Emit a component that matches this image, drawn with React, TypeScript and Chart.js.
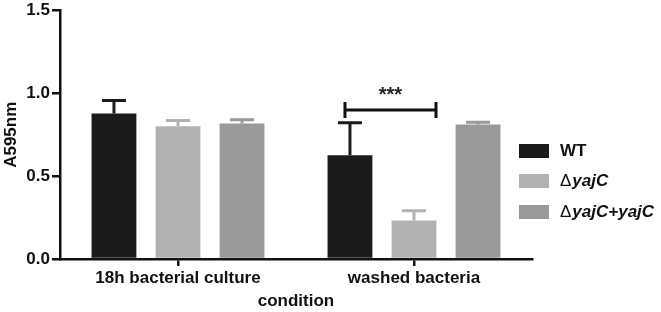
import React, { useEffect, useRef } from "react";
import { Chart, registerables } from "chart.js";

Chart.register(...registerables);

const categories = ["18h bacterial culture", "washed bacteria"];
const seriesNames = ["WT", "ΔyajC", "ΔyajC+yajC"];
const wtValues = [0.878, 0.627];
const wtErrors = [0.078, 0.195];
const delValues = [0.802, 0.232];
const delErrors = [0.034, 0.06];
const compValues = [0.818, 0.812];
const compErrors = [0.022, 0.014];
const seriesColors = ["#1b1b1b", "#b2b2b2", "#999999"];
const yTicks = [0, 0.5, 1.0, 1.5];

const FONT = "'Liberation Sans', Arial, sans-serif";

const errorBarPlugin = {
  id: "errorBars",
  afterDatasetsDraw(chart: any) {
    const ctx = chart.ctx;
    const yScale = chart.scales.y;
    chart.data.datasets.forEach((ds: any, di: number) => {
      const meta = chart.getDatasetMeta(di);
      meta.data.forEach((bar: any, i: number) => {
        const v = ds.data[i];
        const e = ds.errors[i];
        const yTop = yScale.getPixelForValue(v);
        const yErr = yScale.getPixelForValue(v + e);
        ctx.save();
        ctx.strokeStyle = ds.backgroundColor;
        ctx.lineWidth = 3;
        ctx.beginPath();
        ctx.moveTo(bar.x, yTop);
        ctx.lineTo(bar.x, yErr);
        ctx.moveTo(bar.x - 12, yErr);
        ctx.lineTo(bar.x + 12, yErr);
        ctx.stroke();
        ctx.restore();
      });
    });
  },
};

const annotationPlugin = {
  id: "annotations",
  afterDraw(chart: any) {
    const ctx = chart.ctx;
    const yScale = chart.scales.y;
    const m0 = chart.getDatasetMeta(0).data[1];
    const m1 = chart.getDatasetMeta(1).data[1];
    // significance bracket between WT and ΔyajC in group 2
    const yb = yScale.getPixelForValue(0.9);
    const x0 = m0.x - 5;
    const x1 = m1.x + 22;
    ctx.save();
    ctx.strokeStyle = "#111";
    ctx.lineWidth = 3;
    ctx.beginPath();
    ctx.moveTo(x0, yb);
    ctx.lineTo(x1, yb);
    ctx.moveTo(x0, yb - 8);
    ctx.lineTo(x0, yb + 8);
    ctx.moveTo(x1, yb - 8);
    ctx.lineTo(x1, yb + 8);
    ctx.stroke();
    ctx.fillStyle = "#222";
    ctx.font = `bold 20px ${FONT}`;
    ctx.textAlign = "center";
    ctx.textBaseline = "middle";
    ctx.fillText("***", (x0 + x1) / 2, yb - 14);
    ctx.restore();

    // legend
    const lx = chart.chartArea.right - 13;
    const rows = [151, 181, 212];
    ctx.save();
    seriesNames.forEach((name, i) => {
      const cy = rows[i];
      ctx.fillStyle = seriesColors[i];
      ctx.fillRect(lx, cy - 7, 30, 14);
      ctx.fillStyle = "#111";
      ctx.textBaseline = "middle";
      ctx.textAlign = "left";
      let tx = lx + 41;
      if (name.startsWith("Δ")) {
        ctx.font = `17px ${FONT}`;
        ctx.fillText("Δ", tx, cy);
        tx += ctx.measureText("Δ").width + 1;
        ctx.font = `italic bold 17px ${FONT}`;
        ctx.fillText(name.slice(1), tx, cy);
      } else {
        ctx.font = `bold 17px ${FONT}`;
        ctx.fillText(name, tx, cy);
      }
    });
    ctx.restore();
  },
};

export default function App() {
  const ref = useRef<HTMLCanvasElement>(null);
  useEffect(() => {
    document.body.style.margin = "0";
    const datasets = [
      { label: seriesNames[0], data: wtValues, errors: wtErrors, backgroundColor: seriesColors[0] },
      { label: seriesNames[1], data: delValues, errors: delErrors, backgroundColor: seriesColors[1] },
      { label: seriesNames[2], data: compValues, errors: compErrors, backgroundColor: seriesColors[2] },
    ];
    const chart = new Chart(ref.current!, {
      type: "bar",
      data: { labels: categories, datasets: datasets as any },
      plugins: [errorBarPlugin, annotationPlugin],
      options: {
        animation: false,
        responsive: false,
        devicePixelRatio: 1,
        layout: { padding: { top: 8, right: 129, left: 0, bottom: 0 } },
        datasets: { bar: { categoryPercentage: 0.814, barPercentage: 0.7 } },
        plugins: { legend: { display: false }, tooltip: { enabled: false } },
        scales: {
          x: {
            grid: { display: true, drawOnChartArea: false, offset: false, tickLength: 7, color: "#111", lineWidth: 2.5 },
            border: { display: true, color: "#111", width: 2.5 },
            ticks: { color: "#111", font: { family: FONT, size: 17, weight: "bold" }, padding: 2 },
            title: { display: true, text: "condition", color: "#111", font: { family: FONT, size: 17, weight: "bold" }, padding: { top: 0, bottom: 0 } },
            afterFit: (s: any) => { s.height = 53; },
          },
          y: {
            min: 0,
            max: 1.5,
            afterBuildTicks: (s: any) => { s.ticks = yTicks.map((v) => ({ value: v })); },
            grid: { display: true, drawOnChartArea: false, tickLength: 8, color: "#111", lineWidth: 2.5 },
            border: { display: true, color: "#111", width: 2.5 },
            ticks: { color: "#111", font: { family: FONT, size: 17, weight: "bold", lineHeight: 1.0 }, padding: 2, callback: (v: any) => Number(v).toFixed(1) },
            title: { display: true, text: "A595nm", color: "#111", font: { family: FONT, size: 17, weight: "bold" }, padding: { top: 1, bottom: 0 } },
            afterFit: (s: any) => { s.width = 60; },
          },
        },
      },
    });
    return () => chart.destroy();
  }, []);
  return <canvas ref={ref} width={661} height={312} style={{ display: "block" }} />;
}
